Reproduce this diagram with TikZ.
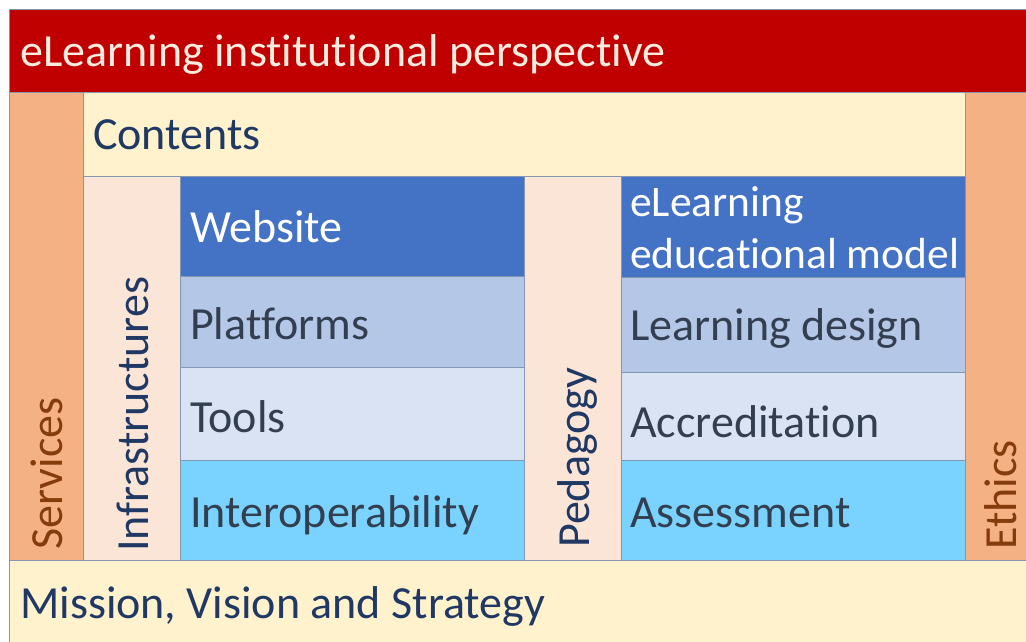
\documentclass[tikz,border=0pt]{standalone}
\usepackage{fontspec}
\setmainfont{Carlito}[Ligatures=NoCommon]
\definecolor{cred}{HTML}{C00000}
\definecolor{corange}{HTML}{F4B183}
\definecolor{ccream}{HTML}{FFF2CC}
\definecolor{cpeach}{HTML}{FBE5D6}
\definecolor{cblue}{HTML}{4472C4}
\definecolor{cblueb}{HTML}{B4C7E7}
\definecolor{cbluec}{HTML}{DAE3F3}
\definecolor{csky}{HTML}{79D3FE}
\definecolor{cborder}{HTML}{8497B0}
\definecolor{cnavy}{HTML}{1F3864}
\definecolor{cslate}{HTML}{333F50}
\definecolor{cbrown}{HTML}{843C0C}
\definecolor{ctitle}{HTML}{FCEBDF}
\begin{document}
\begin{tikzpicture}[x=1pt,y=-1pt,
  box/.style={draw=cborder, line width=0.9pt, inner sep=0pt, outer sep=0pt, anchor=north west},
  lbl/.style={inner sep=0pt, font=\fontsize{46}{50}\selectfont, anchor=base west},
  vlbl/.style={inner sep=0pt, font=\fontsize{46}{50}\selectfont, anchor=base west, rotate=90}]
\clip (0,0) rectangle (1026,641);
\fill[white] (0,0) rectangle (1026,641);
% boxes
\node[box, fill=cred, minimum width=1031pt, minimum height=83pt] (top) at (9,9) {};
\node[box, fill=corange, minimum width=74pt, minimum height=468pt] (serv) at (9,92) {};
\node[box, fill=ccream, minimum width=882pt, minimum height=84pt] (cont) at (83,92) {};
\node[box, fill=corange, minimum width=75pt, minimum height=468pt] (eth) at (965,92) {};
\node[box, fill=cpeach, minimum width=97pt, minimum height=384pt] (infra) at (83,176) {};
\node[box, fill=cblue, minimum width=344pt, minimum height=100pt] (web) at (180,176) {};
\node[box, fill=cblueb, minimum width=344pt, minimum height=91pt] (plat) at (180,276) {};
\node[box, fill=cbluec, minimum width=344pt, minimum height=93pt] (tools) at (180,367) {};
\node[box, fill=csky, minimum width=344pt, minimum height=100pt] (inter) at (180,460) {};
\node[box, fill=cpeach, minimum width=97pt, minimum height=384pt] (ped) at (524,176) {};
\node[box, fill=cblue, minimum width=344pt, minimum height=101pt] (model) at (621,176) {};
\node[box, fill=cblueb, minimum width=344pt, minimum height=95pt] (ldes) at (621,277) {};
\node[box, fill=cbluec, minimum width=344pt, minimum height=88pt] (accr) at (621,372) {};
\node[box, fill=csky, minimum width=344pt, minimum height=100pt] (asse) at (621,460) {};
\node[box, fill=ccream, minimum width=1031pt, minimum height=90pt] (miss) at (9,560) {};
% labels
\node[lbl, text=ctitle] (ttop) at (20,66) {eLearning institutional perspective};
\node[lbl, text=cnavy] (tcont) at (93,149) {Contents};
\node[lbl, text=white] (tweb) at (190,242) {Website};
\node[lbl, text=cslate] (tplat) at (190,339) {Platforms};
\node[lbl, text=cslate] (ttools) at (190,432) {Tools};
\node[lbl, text=cslate] (tinter) at (190,527) {Interoperability};
\node[lbl, text=white, font=\fontsize{43.5}{48}\selectfont] (tmodel1) at (630,216) {eLearning};
\node[lbl, text=white, font=\fontsize{43.5}{48}\selectfont] (tmodel2) at (630,268) {educational model};
\node[lbl, text=cslate] (tldes) at (630,340) {Learning design};
\node[lbl, text=cslate] (taccr) at (630,437) {Accreditation};
\node[lbl, text=cslate] (tasse) at (630,527) {Assessment};
\node[lbl, text=cnavy] (tmiss) at (20,618) {Mission, Vision and Strategy};
\node[vlbl, text=cbrown] (tserv) at (62,550) {Services};
\node[vlbl, text=cnavy] (tinfra) at (148,552) {Infrastructures};
\node[vlbl, text=cnavy] (tped) at (589,548) {Pedagogy};
\node[vlbl, text=cbrown] (teth) at (1016,550) {Ethics};
\end{tikzpicture}
\end{document}
